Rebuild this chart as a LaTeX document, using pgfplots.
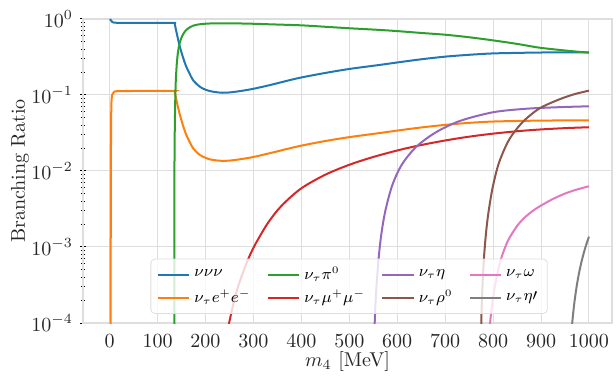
\documentclass[border=0pt]{standalone}
\usepackage{pgfplots}
\pgfplotsset{compat=1.18}

\definecolor{c0}{HTML}{1F77B4}
\definecolor{c1}{HTML}{FF7F0E}
\definecolor{c2}{HTML}{2CA02C}
\definecolor{c3}{HTML}{D62728}
\definecolor{c4}{HTML}{9467BD}
\definecolor{c5}{HTML}{8C564B}
\definecolor{c6}{HTML}{E377C2}
\definecolor{c7}{HTML}{7F7F7F}
\definecolor{gridc}{gray}{0.87}
\definecolor{textc}{gray}{0.15}

\begin{document}
\begin{tikzpicture}
\path[use as bounding box] (-41.5pt,-26pt) rectangle (266.5pt,161.5pt);
\begin{axis}[
  at={(0,0)}, anchor=south west,
  scale only axis, width=264.5pt, height=152pt,
  xmin=-55.5, xmax=1048,
  ymode=log, ymin=1e-4, ymax=1,
  xtick={0,100,...,1000},
  /pgf/number format/1000 sep={},
  grid=major,
  major grid style={draw=gridc, line width=0.5pt},
  axis line style={draw=gridc, line width=0.7pt},
  tick pos=left,
  xtick style={draw=none},
  ytick style={draw=black, line width=0.5pt},
  minor tick style={draw=black, line width=0.4pt},
  tick align=center,
  major tick length=3pt, minor tick length=2pt,
  tick label style={text=textc},
  xticklabel style={yshift=-1pt},
  xlabel={$m_4$ [MeV]},
  ylabel={Branching Ratio},
  every axis x label/.style={at={(axis description cs:0.5,0)}, anchor=center, yshift=-19pt, text=textc},
  every axis y label/.style={at={(axis description cs:-0.1191,0.5)}, rotate=90, anchor=center, text=textc},
  every axis plot/.append style={line width=1pt},
  legend columns=4,
  legend cell align=left,
  legend image code/.code={\draw[#1] (0pt,0pt) -- (15.8pt,0pt);},
  legend style={
    at={(0.503,0.03)}, anchor=south,
    font=\fontsize{7.8}{9.4}\selectfont,
    fill=white, fill opacity=0.8, text opacity=1, draw opacity=1,
    draw=gridc, rounded corners=2pt,
    /tikz/every even column/.append style={column sep=6pt},
  },
]

% nu nu nu
\addplot[c0, smooth, forget plot] coordinates {
 (1.0,1.0) (2,0.975) (3.5,0.945) (5.5,0.915) (8,0.9) (14,0.892) (60,0.89) (134,0.89)
 (135,0.885) (136,0.855) (137,0.8) (138,0.74) (140,0.65) (142,0.57) (145,0.47)
 (149,0.38) (154,0.3) (160,0.235) (167,0.19) (174,0.157) (184,0.135) (194,0.122)
 (208,0.113) (222,0.109) (235,0.107) (250,0.108) (270,0.112) (298,0.12) (330,0.133)
 (354,0.145) (396,0.168) (450,0.195) (500,0.22) (562,0.248) (604,0.27) (650,0.295)
 (701,0.32) (750,0.338) (798,0.352) (850,0.358) (896,0.362) (950,0.364) (1000,0.365)
};

% nu e+ e-
\addplot[c1, smooth, forget plot] coordinates {
 (2.0,5e-5) (2.5,3e-3) (3.0,0.03) (3.6,0.07) (4.5,0.092) (6,0.103) (9,0.109) (15,0.112)
 (60,0.113) (134,0.113) (135,0.112) (136,0.108) (137,0.101) (138,0.094) (140,0.083)
 (142,0.072) (145,0.06) (149,0.0485) (154,0.038) (160,0.0298) (167,0.0241) (174,0.02)
 (184,0.0171) (194,0.0155) (208,0.0143) (222,0.0138) (235,0.0136) (250,0.0137)
 (270,0.0142) (298,0.0152) (330,0.0169) (354,0.0184) (396,0.0213) (450,0.0248)
 (500,0.0279) (562,0.0315) (604,0.0343) (650,0.0374) (701,0.0405) (750,0.043)
 (798,0.0447) (850,0.0455) (896,0.046) (950,0.0463) (1000,0.0465)
};

% nu pi0
\addplot[c2, forget plot] coordinates {
 (134.985,5e-5) (135.05,2e-3) (135.3,0.012) (136,0.04)
};
\addplot[c2, smooth, forget plot] coordinates {
 (136,0.04) (137,0.09) (138,0.15) (140,0.25) (142,0.34) (145,0.45) (149,0.55)
 (154,0.64) (160,0.72) (167,0.775) (174,0.815) (184,0.845) (194,0.86) (208,0.872)
 (230,0.878) (260,0.876) (300,0.865) (350,0.845) (400,0.825) (450,0.79) (500,0.755)
 (560,0.72) (604,0.69) (650,0.655) (701,0.62) (750,0.575) (798,0.525) (850,0.47)
 (896,0.42) (950,0.385) (1000,0.36)
};

% nu mu+ mu-
\addplot[c3, smooth, forget plot] coordinates {
 (220,4e-6) (230,1.6e-5) (240,4.6e-5) (250,1.05e-4) (265,2.62e-4) (285,5.99e-4)
 (302,1.03e-3) (330,2.06e-3) (358,3.45e-3) (399,5.86e-3) (450,8.94e-3)
 (500,0.01207) (550,0.01529) (604,0.01889) (650,0.02197) (701,0.02527)
 (750,0.02829) (798,0.03091) (850,0.03334) (896,0.03511) (950,0.03664)
 (1000,0.03765)
};

% nu eta
\addplot[c4, smooth, forget plot] coordinates {
 (549,4.7e-6) (550,1.7e-5) (552,6.5e-5) (555,2.0e-4) (560,5.8e-4) (566,1.35e-3)
 (575,2.96e-3) (590,6.59e-3) (610,0.01225) (640,0.0209) (680,0.0321) (730,0.0454)
 (800,0.0593) (870,0.0660) (940,0.0692) (1000,0.0710)
};

% nu rho0
\addplot[c5, smooth, forget plot] coordinates {
 (774,4e-5) (776,1.5e-4) (778,3.3e-4) (781,7.3e-4) (785,1.485e-3) (790,2.77e-3)
 (799,6.05e-3) (812,0.0127) (833,0.0256) (861,0.0436) (896,0.0662) (937,0.087)
 (970,0.1027) (1000,0.114)
};

% nu omega
\addplot[c6, smooth, forget plot] coordinates {
 (790,5.87e-5) (795,1.21e-4) (800,2.13e-4) (805,3.4e-4) (812,5.46e-4) (819,7.8e-4)
 (830,1.18e-3) (840,1.52e-3) (853,2.0e-3) (868,2.51e-3) (885,3.06e-3) (903,3.6e-3)
 (925,4.29e-3) (951,5.08e-3) (975,5.71e-3) (1000,6.3e-3)
};

% nu eta'
\addplot[c7, smooth, forget plot] coordinates {
 (958,1.76e-5) (962,5.64e-5) (966,1.162e-4) (970,1.963e-4) (975,3.237e-4)
 (980,4.8e-4) (985,6.64e-4) (990,8.75e-4) (995,1.11e-3) (1000,1.37e-3)
};

% legend, filled row by row
\addlegendimage{c0, line width=1pt}\addlegendentry{$\nu\nu\nu$}
\addlegendimage{c2, line width=1pt}\addlegendentry{$\nu_\tau\pi^0$}
\addlegendimage{c4, line width=1pt}\addlegendentry{$\nu_\tau\eta$}
\addlegendimage{c6, line width=1pt}\addlegendentry{$\nu_\tau\omega$}
\addlegendimage{c1, line width=1pt}\addlegendentry{$\nu_\tau e^+e^-$}
\addlegendimage{c3, line width=1pt}\addlegendentry{$\nu_\tau\mu^+\mu^-$}
\addlegendimage{c5, line width=1pt}\addlegendentry{$\nu_\tau\rho^0$}
\addlegendimage{c7, line width=1pt}\addlegendentry{$\nu_\tau\eta\prime$}
\end{axis}
\end{tikzpicture}
\end{document}
